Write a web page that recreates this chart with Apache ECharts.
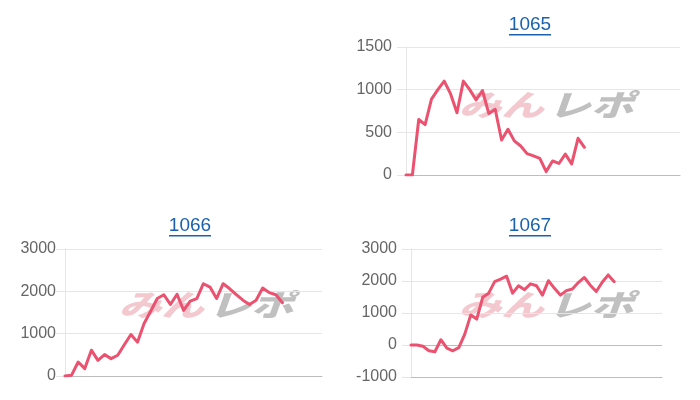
<!DOCTYPE html>
<html><head><meta charset="utf-8">
<script src="https://cdn.jsdelivr.net/npm/echarts@6/dist/echarts.min.js"></script>
<style>html,body{margin:0;padding:0;background:#fff}#c{width:700px;height:400px}</style>
</head><body><div id="c"></div>
<script>
// Titles (machine numbers)
const titles = ['1065', '1066', '1067'];
// Number of x slots on each chart's (hidden) x axis
const slots1065 = 44;
const slots1066 = 40;
const slots1067 = 43;
// Series values
const s1065 = [0,0,650,590,890,1000,1100,950,730,1100,1000,880,990,720,770,410,535,400,340,250,225,195,40,165,135,245,130,430,325];
const s1066 = [0,20,330,175,610,370,505,410,490,740,980,800,1240,1530,1830,1920,1690,1930,1550,1770,1830,2180,2100,1830,2180,2060,1920,1790,1690,1790,2080,1970,1920,1730];
const s1067 = [0,0,-40,-180,-210,165,-100,-180,-80,340,940,810,1490,1620,1980,2060,2150,1620,1850,1730,1910,1850,1560,2010,1770,1560,1700,1750,1950,2110,1870,1670,1960,2190,1980];
// y axis ranges: [min, max, interval]
const y1065 = [0, 1500, 500];
const y1066 = [0, 3000, 1000];
const y1067 = [-1000, 3000, 1000];

const cats1065 = Array.from({length: slots1065}, (_, i) => String(i));
const cats1066 = Array.from({length: slots1066}, (_, i) => String(i));
const cats1067 = Array.from({length: slots1067}, (_, i) => String(i));

const LINE = '#ea5270';
const GRID = '#e6e6e6';
const ZERO = '#bdbdbd';
const FONT = '"Liberation Sans", Arial, sans-serif';

const grids = [
  {left: 406, right: 20, top: 47, bottom: 225},
  {left: 65, right: 378, top: 249, bottom: 24},
  {left: 411, right: 38, top: 249, bottom: 23}
];
const catsList = [cats1065, cats1066, cats1067];
const yList = [y1065, y1066, y1067];
const dataList = [s1065, s1066, s1067];
const margins = [14, 9, 14];

const xAxis = catsList.map((c, i) => ({
  type: 'category', gridIndex: i, data: c, boundaryGap: false,
  axisLabel: {show: false}, axisTick: {show: false},
  axisLine: {show: true, onZero: false, lineStyle: {color: ZERO, width: 1}},
  splitLine: {show: false}
}));
const yAxis = yList.map((y, i) => {
  const n = Math.round((y[1] - y[0]) / y[2]) + 1;
  const colors = [];
  for (let k = 0; k < n; k++) {
    const v = y[0] + k * y[2];
    colors.push(v === 0 ? ZERO : GRID);
  }
  return {
    type: 'value', gridIndex: i, min: y[0], max: y[1], interval: y[2],
    axisLine: {show: true, lineStyle: {color: GRID}},
    axisTick: {show: true, length: 9, lineStyle: {color: GRID}},
    axisLabel: {color: '#666', fontSize: 16, fontFamily: FONT, margin: margins[i],
      formatter: (v) => String(v)},
    splitLine: {show: true, lineStyle: {color: colors, width: 1}}
  };
});
const series = dataList.map((d, i) => ({
  type: 'line', xAxisIndex: i, yAxisIndex: i, data: d,
  showSymbol: false, symbol: 'none', smooth: false,
  lineStyle: {color: LINE, width: 3, join: 'round', cap: 'round'},
  itemStyle: {color: LINE}, z: 3
}));

const titlePos = [[530, 25], [190, 226], [530, 226]];
const wmPos = [[545, 105], [205, 305], [545, 305]];
const graphic = [];
titles.forEach((t, i) => {
  const [x, y] = titlePos[i];
  graphic.push({type: 'text', x: x, y: y, z: 10,
    style: {text: t, font: '19px ' + FONT, fill: '#1a62ae', align: 'center', verticalAlign: 'middle'}});
  graphic.push({type: 'rect', x: x - 21, y: y + 9, z: 10,
    shape: {width: 42, height: 1.5}, style: {fill: '#1a62ae'}});
  const [wx, wy] = wmPos[i];
  graphic.push({type: 'group', x: wx, y: wy, z: 1, scaleX: 1.12, scaleY: 0.78, children: [
    {type: 'text', x: -1, y: 0, style: {text: 'みん', font: 'italic 900 38px "Noto Sans CJK JP"', fill: 'rgba(228,135,148,0.45)', align: 'right', verticalAlign: 'middle'}},
    {type: 'text', x: 3, y: 0, style: {text: 'レポ', font: 'italic 900 38px "Noto Sans CJK JP"', fill: 'rgba(150,150,150,0.6)', align: 'left', verticalAlign: 'middle'}}
  ]});
});

const chart = echarts.init(document.getElementById('c'), null, {renderer: 'canvas'});
chart.setOption({
  animation: false,
  backgroundColor: '#fff',
  grid: grids,
  xAxis: xAxis,
  yAxis: yAxis,
  series: series,
  graphic: graphic
});
</script></body></html>
